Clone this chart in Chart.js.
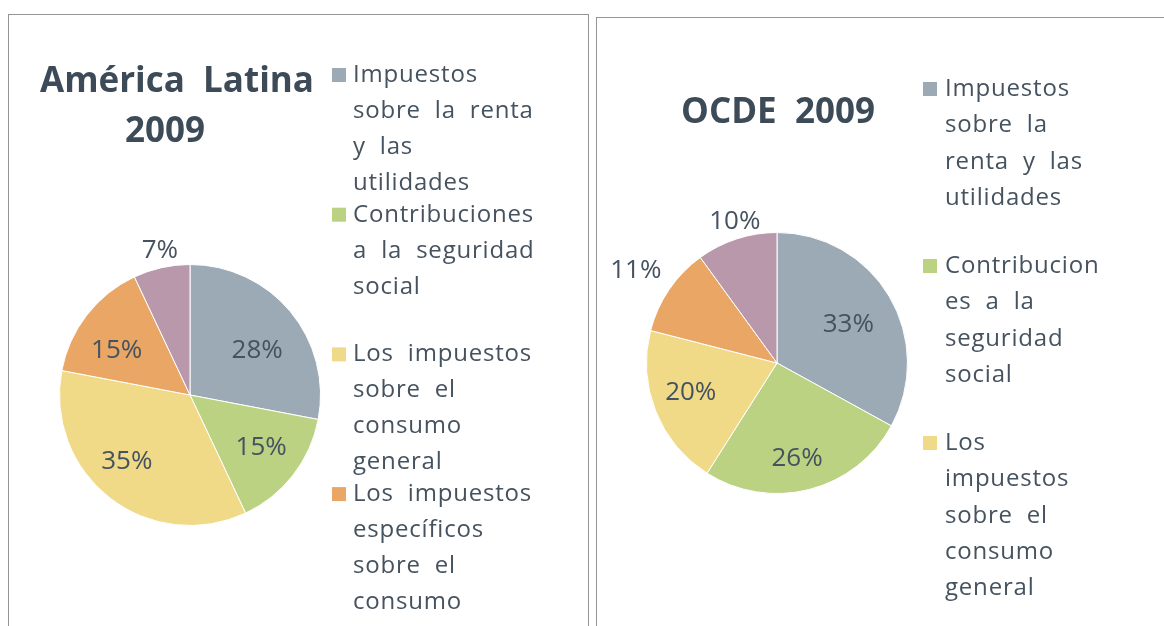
<!DOCTYPE html>
<html><head><meta charset="utf-8">
<script src="https://cdn.jsdelivr.net/npm/chart.js@4/dist/chart.umd.min.js"></script>
<style>
html,body{margin:0;padding:0;background:#fff;width:1164px;height:626px;overflow:hidden}
.panel{position:absolute;border:1px solid #959595;border-bottom:none;box-sizing:border-box}
#p1{left:8px;top:14px;width:581px;height:612px}
#p2{left:596px;top:17px;width:580px;height:609px;border-right:none}
canvas{position:absolute;top:0}
#c1{left:0}
#c2{left:592px}
</style></head>
<body>
<div class="panel" id="p1"></div>
<div class="panel" id="p2"></div>
<canvas id="c1" width="592" height="626"></canvas>
<canvas id="c2" width="572" height="626"></canvas>
<script>
// ---- data ----
const categories = [
  'Impuestos sobre la renta y las utilidades',
  'Contribuciones a la seguridad social',
  'Los impuestos sobre el consumo general',
  'Los impuestos específicos sobre el consumo',
  'Otros'
];
const latamValues = [28, 15, 35, 15, 7];
const ocdeValues  = [33, 26, 20, 11, 10];
const latamTitle = ['América  Latina', '2009'];
const ocdeTitle  = ['OCDE  2009'];
// legend text as wrapped in each panel
const latamLegendLines = [
  ['Impuestos', 'sobre la renta', 'y las', 'utilidades'],
  ['Contribuciones', 'a la seguridad', 'social'],
  ['Los impuestos', 'sobre el', 'consumo', 'general'],
  ['Los impuestos', 'específicos', 'sobre el', 'consumo'],
  ['Otros']
];
const ocdeLegendLines = [
  ['Impuestos', 'sobre la', 'renta y las', 'utilidades'],
  ['Contribucion', 'es a la', 'seguridad', 'social'],
  ['Los', 'impuestos', 'sobre el', 'consumo', 'general'],
  ['Los', 'impuestos', 'específicos', 'sobre el', 'consumo'],
  ['Otros']
];

// ---- styles ----
const colors = ['#9caab6', '#bad282', '#f0da87', '#e9a664', '#ba98ac'];
const TEXT = '#45525f';
const TITLE = '#3d4b58';
const FONT = '"Open Sans", "DejaVu Sans", sans-serif';

function drawWords(ctx, str, x, y, gap) {
  const words = str.split(' ');
  let cx = x;
  words.forEach(w => {
    ctx.fillText(w, cx, y);
    cx += ctx.measureText(w).width + gap;
  });
}

const decor = {
  id: 'decor',
  afterDraw(chart, args, o) {
    const ctx = chart.ctx;
    const meta = chart.getDatasetMeta(0);
    const vals = chart.data.datasets[0].data;
    const total = vals.reduce((a, b) => a + b, 0);
    ctx.save();
    // title
    ctx.fillStyle = TITLE;
    ctx.font = 'bold 35px ' + FONT;
    ctx.textAlign = 'center';
    ctx.textBaseline = 'alphabetic';
    o.title.forEach((t, i) => ctx.fillText(t, o.titleX[i], o.titleY[i]));
    // data labels
    ctx.font = '26px ' + FONT;
    ctx.fillStyle = TEXT;
    meta.data.forEach((arc, i) => {
      const mid = (arc.startAngle + arc.endAngle) / 2 + o.labelAngle[i] * Math.PI / 180;
      const r = arc.outerRadius * o.labelRadius[i];
      const x = arc.x + Math.cos(mid) * r;
      const y = arc.y + Math.sin(mid) * r;
      const pct = Math.round(vals[i] / total * 100) + '%';
      ctx.fillText(pct, x, y + 9);
    });
    // legend
    ctx.beginPath();
    ctx.rect(0, 0, chart.width, o.clipBottom);
    ctx.clip();
    ctx.textAlign = 'left';
    ctx.font = '24px ' + FONT;
    ctx.letterSpacing = '0.8px';
    o.legend.forEach((lines, i) => {
      const y0 = o.legY + i * o.slot;
      ctx.fillStyle = colors[i];
      ctx.fillRect(o.boxX, y0 - 6, 14, 14);
      ctx.fillStyle = TEXT;
      lines.forEach((ln, j) => drawWords(ctx, ln, o.textX, y0 + j * o.lineH + 8, 14));
    });
    ctx.restore();
  }
};

function makePie(id, values, padding, opts) {
  return new Chart(document.getElementById(id), {
    type: 'pie',
    data: {
      labels: categories,
      datasets: [{ data: values, backgroundColor: colors, borderColor: '#ffffff', borderWidth: 1 }]
    },
    options: {
      responsive: false,
      animation: false,
      layout: { padding },
      plugins: { legend: { display: false }, tooltip: { enabled: false }, decor: opts }
    },
    plugins: [decor]
  });
}

makePie('c1', latamValues, { left: 59, top: 264, right: 271, bottom: 100 }, {
  title: latamTitle, titleX: [177, 165], titleY: [92, 142],
  labelRadius: [0.625, 0.672, 0.696, 0.664, 1.14],
  labelAngle: [5.1, -2.1, 6.3, -5.6, 0.9],
  legend: latamLegendLines, legY: 74, slot: 139.7, lineH: 36, boxX: 332, textX: 353, clipBottom: 614
});
makePie('c2', ocdeValues, { left: 54, top: 232, right: 256, bottom: 132 }, {
  title: ocdeTitle, titleX: [186], titleY: [123],
  labelRadius: [0.627, 0.739, 0.695, 1.30, 1.146],
  labelAngle: [1.2, 2.4, 3.6, -0.5, 1.6],
  legend: ocdeLegendLines, legY: 88, slot: 177, lineH: 36.3, boxX: 331, textX: 353, clipBottom: 604
});
</script>
</body></html>
